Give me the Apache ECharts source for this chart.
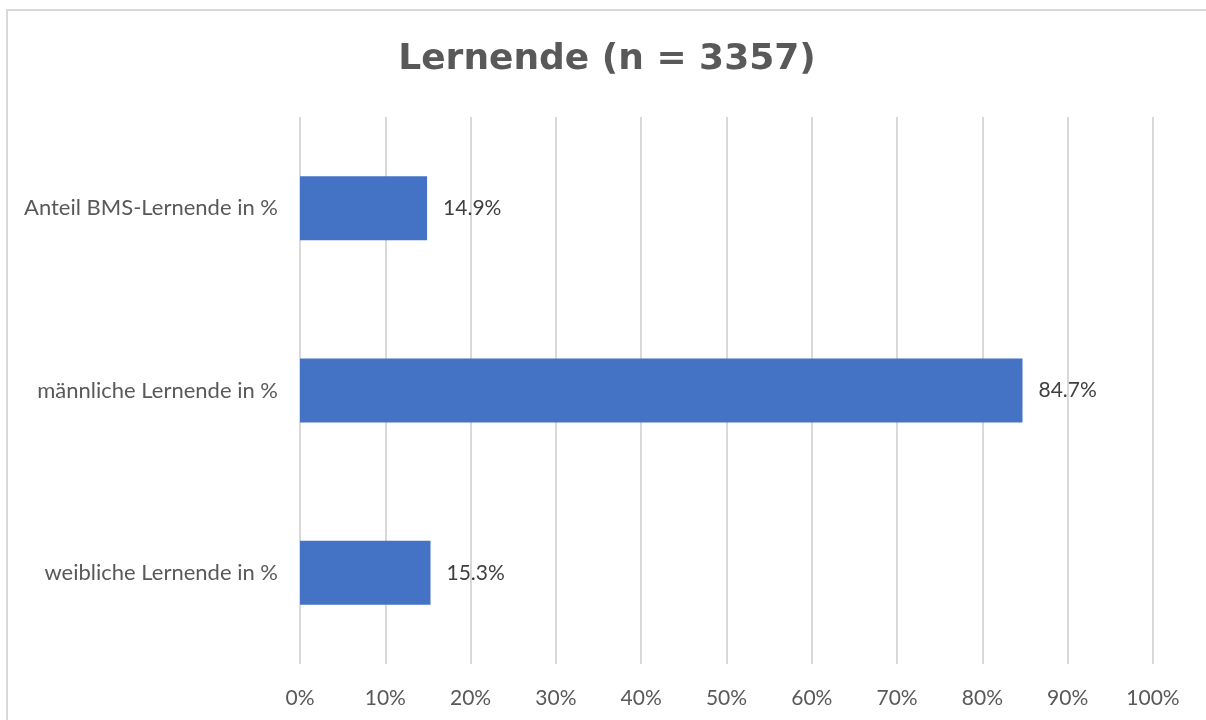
<!DOCTYPE html>
<html>
<head>
<meta charset="utf-8">
<script src="https://cdn.jsdelivr.net/npm/echarts@6/dist/echarts.min.js"></script>
<style>
  html, body { margin: 0; padding: 0; background: #fff; }
  #chart { position: absolute; left: 6px; top: 9px; width: 1200px; height: 711px;
           border-left: 2px solid #d9d9d9; border-top: 2px solid #d9d9d9; box-sizing: border-box; }
</style>
</head>
<body>
<div id="chart"></div>
<script>
// Daten (von unten nach oben, wie bei Excel-Balkendiagrammen)
const categories = ['weibliche Lernende in %', 'männliche Lernende in %', 'Anteil BMS-Lernende in %']
const values = [15.3, 84.7, 14.9]
const tickLabels = ['0%', '10%', '20%', '30%', '40%', '50%', '60%', '70%', '80%', '90%', '100%']

const chart = echarts.init(document.getElementById('chart'))
const option = {
  animation: false,
  title: {
    text: 'Lernende (n = 3357)',
    left: 'center',
    top: 26,
    textStyle: {
      fontFamily: 'DejaVu Sans',
      fontWeight: 'bold',
      fontSize: 36,
      color: '#595959'
    }
  },
  grid: {
    left: 292,
    right: 53,
    top: 106,
    bottom: 56
  },
  xAxis: {
    type: 'value',
    min: 0,
    max: 100,
    interval: 10,
    axisLine: { show: false },
    axisTick: { show: false },
    splitLine: { lineStyle: { color: '#d9d9d9', width: 2 } },
    axisLabel: {
      margin: 24,
      fontFamily: 'Lato',
      fontSize: 21,
      color: '#595959',
      formatter: v => tickLabels[Math.round(v / 10)]
    }
  },
  yAxis: {
    type: 'category',
    data: categories,
    axisLine: { show: false },
    axisTick: { show: false },
    axisLabel: {
      margin: 22,
      fontFamily: 'Lato',
      fontSize: 22,
      color: '#595959'
    }
  },
  series: [
    {
      type: 'bar',
      data: values,
      barWidth: 64,
      itemStyle: { color: '#4472c4' },
      label: {
        show: true,
        position: 'right',
        distance: 16,
        fontFamily: 'Lato',
        fontSize: 21,
        color: '#404040',
        formatter: p => p.value.toFixed(1) + '%'
      }
    }
  ]
}
option && chart.setOption(option)
</script>
</body>
</html>
